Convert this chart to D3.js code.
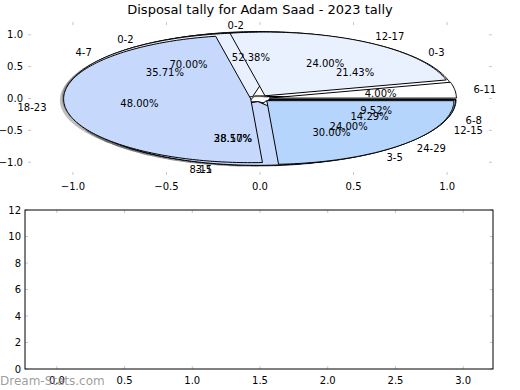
<!DOCTYPE html>
<html>
<head>
<meta charset="utf-8">
<script src="https://cdn.jsdelivr.net/npm/d3@7/dist/d3.min.js"></script>
<style>
  body { margin: 0; background: #fff; }
  text { font-family: "DejaVu Sans", sans-serif; }
</style>
</head>
<body>
<div id="chart"></div>
<script>
// four disposal pies drawn on the same axes, in this order
var bins21 = ["0-2", "3-5", "6-8"];
var counts21 = [11, 8, 2];
var bins10 = ["0-2", "3-5"];
var counts10 = [7, 3];
var bins14 = ["0-3", "4-7", "8-11", "12-15"];
var counts14 = [3, 5, 4, 2];
var bins25 = ["6-11", "12-17", "18-23", "24-29"];
var counts25 = [1, 6, 12, 6];

var pieTicks = [-1.0, -0.5, 0.0, 0.5, 1.0];
var barXTicks = [0.0, 0.5, 1.0, 1.5, 2.0, 2.5, 3.0];
var barYTicks = [0, 2, 4, 6, 8, 10, 12];

var wedgeColors = ["#ffffff", "#eaf1fe", "#c6d9fd", "#b5d5fd"];
var explode = 0.05;

var W = 520, H = 390;
var svg = d3.select("#chart").append("svg")
    .attr("width", W).attr("height", H);

// title
svg.append("text")
    .attr("x", 260).attr("y", 14)
    .attr("text-anchor", "middle")
    .style("font-size", "13px")
    .text("Disposal tally for Adam Saad - 2023 tally");

// --- top axes (pies) ---
var px = d3.scaleLinear().domain([-1.24, 1.24]).range([28, 492]);
var py = d3.scaleLinear().domain([-1.2, 1.2]).range([175, 22]);
var fmt = function(v) { return v < 0 ? "\u2212" + d3.format(".1f")(-v) : d3.format(".1f")(v); };

var g1 = svg.append("g");

// tick marks, no frame
pieTicks.forEach(function(t) {
    g1.append("line").attr("x1", px(t)).attr("x2", px(t)).attr("y1", 22).attr("y2", 25).attr("stroke", "#c8c8c8");
    g1.append("line").attr("x1", px(t)).attr("x2", px(t)).attr("y1", 175).attr("y2", 172).attr("stroke", "#c8c8c8");
    g1.append("line").attr("y1", py(t)).attr("y2", py(t)).attr("x1", 28).attr("x2", 31).attr("stroke", "#c8c8c8");
    g1.append("line").attr("y1", py(t)).attr("y2", py(t)).attr("x1", 492).attr("x2", 489).attr("stroke", "#c8c8c8");
    g1.append("text").attr("x", px(t)).attr("y", 190).attr("text-anchor", "middle")
        .style("font-size", "10px").text(fmt(t));
    g1.append("text").attr("x", 23).attr("y", py(t)).attr("dy", "0.35em").attr("text-anchor", "end")
        .style("font-size", "10px").text(fmt(t));
});

var pie = d3.pie().sort(null);
var line = d3.line().x(function(d) { return px(d[0]); }).y(function(d) { return py(d[1]); });

function wedgePts(cx, cy, a0, a1) {
    var pts = [[cx, cy]];
    var n = Math.max(8, Math.ceil((a1 - a0) / 0.02));
    for (var i = 0; i <= n; i++) {
        var a = a0 + (a1 - a0) * i / n;
        pts.push([cx + Math.cos(a), cy + Math.sin(a)]);
    }
    pts.push([cx, cy]);
    return pts;
}

var pies = [
    { bins: bins21, counts: counts21 },
    { bins: bins10, counts: counts10 },
    { bins: bins14, counts: counts14 },
    { bins: bins25, counts: counts25 }
];

// shadows sit under every wedge, texts over everything
var shadows = g1.append("g");
var patches = g1.append("g");
var texts = g1.append("g");

pies.forEach(function(p) {
    var total = d3.sum(p.counts);
    var arcs = pie(p.counts);
    arcs.forEach(function(d, i) {
        var mid = (d.startAngle + d.endAngle) / 2;
        var cx = explode * Math.cos(mid), cy = explode * Math.sin(mid);
        var pts = wedgePts(cx, cy, d.startAngle, d.endAngle);
        shadows.append("path")
            .attr("d", line(pts.map(function(q) { return [q[0] - 0.02, q[1] - 0.02]; })))
            .attr("fill", "#000").attr("fill-opacity", 0.25);
        patches.append("path")
            .attr("d", line(pts))
            .attr("fill", wedgeColors[i])
            .attr("stroke", "#000").attr("stroke-width", 1)
            .attr("stroke-linejoin", "round");

        var lx = cx + 1.1 * Math.cos(mid), ly = cy + 1.1 * Math.sin(mid);
        texts.append("text")
            .attr("x", px(lx)).attr("y", py(ly)).attr("dy", "0.35em")
            .attr("text-anchor", lx > 0 ? "start" : "end")
            .style("font-size", "10px")
            .text(p.bins[i]);
        var tx = cx + 0.6 * Math.cos(mid), ty = cy + 0.6 * Math.sin(mid);
        texts.append("text")
            .attr("x", px(tx)).attr("y", py(ty)).attr("dy", "0.35em")
            .attr("text-anchor", "middle")
            .style("font-size", "10px")
            .text(d3.format(".2f")(100 * d.data / total) + "%");
    });
});

// --- bottom axes (empty) ---
var bx = d3.scaleLinear().domain([-0.235, 3.22]).range([25, 493]);
var by = d3.scaleLinear().domain([0, 12]).range([369, 210]);
var g2 = svg.append("g");

barXTicks.forEach(function(t) {
    g2.append("line").attr("x1", bx(t)).attr("x2", bx(t)).attr("y1", 210).attr("y2", 213).attr("stroke", "#c8c8c8");
    g2.append("line").attr("x1", bx(t)).attr("x2", bx(t)).attr("y1", 369).attr("y2", 366).attr("stroke", "#c8c8c8");
    g2.append("text").attr("x", bx(t)).attr("y", 384).attr("text-anchor", "middle")
        .style("font-size", "10px").text(d3.format(".1f")(t));
});
barYTicks.forEach(function(t) {
    g2.append("line").attr("y1", by(t)).attr("y2", by(t)).attr("x1", 25).attr("x2", 28).attr("stroke", "#c8c8c8");
    g2.append("line").attr("y1", by(t)).attr("y2", by(t)).attr("x1", 493).attr("x2", 490).attr("stroke", "#c8c8c8");
    g2.append("text").attr("x", 21).attr("y", by(t)).attr("dy", "0.35em").attr("text-anchor", "end")
        .style("font-size", "10px").text(t);
});
g2.append("rect")
    .attr("x", 25).attr("y", 210).attr("width", 468).attr("height", 159)
    .attr("fill", "none").attr("stroke", "#000").attr("stroke-width", 1);

// watermark
svg.append("text")
    .attr("x", 0).attr("y", 385)
    .style("font-size", "12px")
    .attr("fill", "#8c8c8c").attr("fill-opacity", 0.85)
    .text("Dream-Stats.com");
</script>
</body>
</html>
